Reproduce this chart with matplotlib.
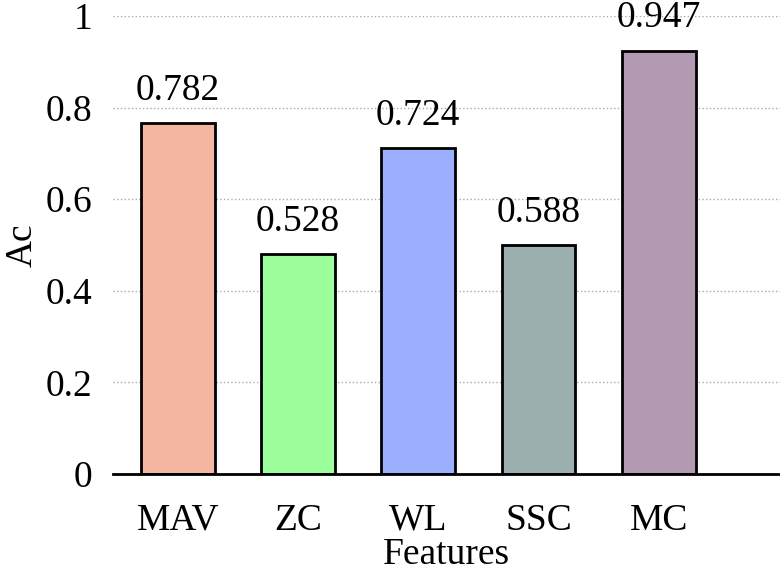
import matplotlib.pyplot as plt

features = ['MAV', 'ZC', 'WL', 'SSC', 'MC']
# bar heights as drawn, and the value labels printed above them
heights = [0.766, 0.480, 0.712, 0.500, 0.924]
labels = ['0.782', '0.528', '0.724', '0.588', '0.947']
colors = ['#F4B6A0', '#9CFF9C', '#9CAFFF', '#9BAFAE', '#B39AB3']

plt.rcParams['font.family'] = ['Liberation Serif', 'DejaVu Serif']

fig = plt.figure(figsize=(7.8, 5.73), dpi=100)
ax = fig.add_axes([0.145, 0.173, 0.855, 0.799])

x = range(len(features))
bars = ax.bar(x, heights, width=0.615, color=colors, edgecolor='black', linewidth=2, zorder=3)
for b, lab in zip(bars, labels):
    ax.annotate(lab, (b.get_x() + b.get_width() / 2, b.get_height()),
                xytext=(0, 23.5), textcoords='offset points',
                ha='center', va='center', fontsize=27, zorder=4)

ax.set_xlim(-0.537, 5.008)
ax.set_ylim(0, 1)
ax.set_yticks([0, 0.2, 0.4, 0.6, 0.8, 1])
ax.set_yticklabels(['0', '0.2', '0.4', '0.6', '0.8', '1'])
ax.set_xticks(list(x))
ax.set_xticklabels(features)
ax.tick_params(axis='both', length=0, labelsize=27)
ax.tick_params(axis='y', pad=15)
ax.tick_params(axis='x', pad=21)
ax.yaxis.grid(True, color='#aaaaaa', linestyle=':', linewidth=1, zorder=0)
for s in ['top', 'right', 'left']:
    ax.spines[s].set_visible(False)
ax.spines['bottom'].set_linewidth(2)
ax.spines['bottom'].set_zorder(5)

ax.set_xlabel('Features', fontsize=27, labelpad=0)
ax.set_ylabel('Ac', fontsize=27, labelpad=4)

plt.savefig('out.png', dpi=100)
